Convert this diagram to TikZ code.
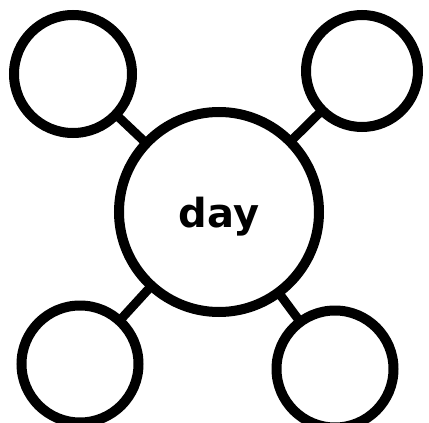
\documentclass[tikz,border=0pt]{standalone}
\usepackage{fontspec}
\setmainfont{DejaVu Sans}
\begin{document}
\begin{tikzpicture}[x=1pt, y=-1pt,
    ring/.style={draw, circle, line width=10pt, inner sep=0pt},
    spoke/.style={line width=9pt, shorten <=-4pt, shorten >=-4pt}]
      \useasboundingbox (0,0) rectangle (429,423);

      % Draw the middle circle and its word
      \node[ring, minimum size=200pt] at (219,212) (hub) {};
      \node[anchor=base, font=\bfseries\fontsize{40}{48}\selectfont] at (219,227) (word) {day};

      % Draw the four outer circles
      \node[ring, minimum size=118pt] at (73,74) (topleft) {};
      \node[ring, minimum size=112pt] at (362,71) (topright) {};
      \node[ring, minimum size=117pt] at (80,364) (botleft) {};
      \node[ring, minimum size=117pt] at (335,369) (botright) {};

      % Draw the spokes
      \draw[spoke] (hub) -- (topleft);
      \draw[spoke] (hub) -- (topright);
      \draw[spoke] (hub) -- (botleft);
      \draw[spoke] (hub) -- (botright);
    \end{tikzpicture}
\end{document}
